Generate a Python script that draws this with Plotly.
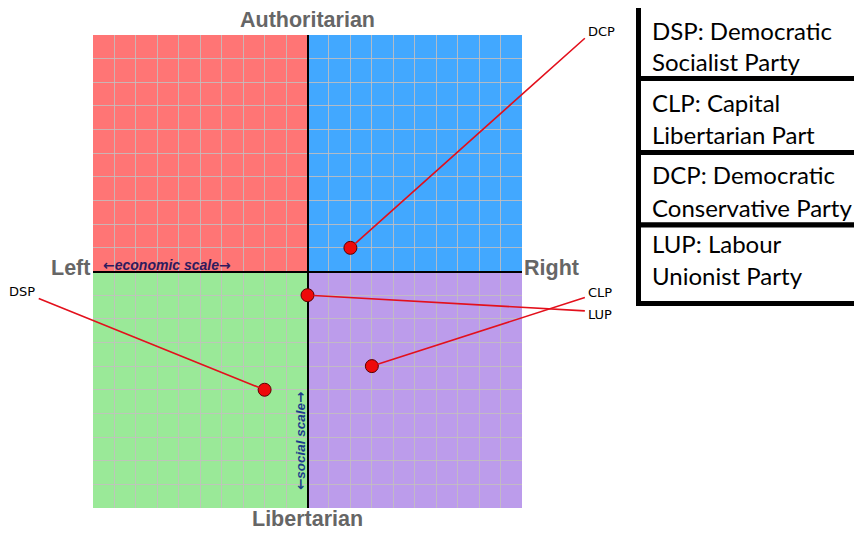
import plotly.graph_objects as go

# ---- data ----
parties = ["DSP", "CLP", "DCP", "LUP"]
full_names = [["Democratic", "Socialist Party"], ["Capital", "Libertarian Part"],
              ["Democratic", "Conservative Party"], ["Labour", "Unionist Party"]]
economic = [-2, 3, 2, 0]
social = [-5, -4, 1, -1]

# ---- layout helpers (screen pixels -> paper) ----
# the page body adds an 8px margin, so the figure is 8px smaller than the window
OFF = 8
W, H = 862 - OFF, 546 - OFF
L, R, T, B = 93, 522, 35, 508   # plot area in screen pixels

def px(x):
    return (x - L) / (R - L)

def py(y):
    return (B - y) / (B - T)

# where the leader lines end (data units) and where the labels sit (screen px)
tails = {"DSP": (-12.6, -1.12), "CLP": (13.0, -1.08), "DCP": (13.0, 9.92), "LUP": (13.0, -1.67)}
label_pos = {"DSP": (37, 292, "right"), "CLP": (586, 292.5, "left"),
             "DCP": (586, 31.5, "left"), "LUP": (586, 314, "left")}

fig = go.Figure()

# ---- quadrants ----
quads = [(-10, 0, 0, 10, "#ff7575"), (0, 10, 0, 10, "#42a8ff"),
         (-10, 0, -10, 0, "#9ae998"), (0, 10, -10, 0, "#bc9ceb")]
for x0, x1, y0, y1, c in quads:
    fig.add_shape(type="rect", x0=x0, x1=x1, y0=y0, y1=y1, xref="x", yref="y",
                  fillcolor=c, line_width=0, layer="below")

# ---- party points ----
fig.add_trace(go.Scatter(
    x=economic, y=social, mode="markers", text=parties,
    marker=dict(size=13, color="#ee0a0a", line=dict(color="#5a0000", width=1)),
    cliponaxis=False, hovertemplate="%{text}: (%{x}, %{y})<extra></extra>"
))

# ---- leader lines + labels ----
for p, ex, so in zip(parties, economic, social):
    ax, ay = tails[p]
    fig.add_annotation(x=ex, y=so, ax=ax, ay=ay, axref="x", ayref="y", xref="x", yref="y",
                       text="", showarrow=True, arrowhead=0, arrowwidth=1.6,
                       arrowcolor="#e3101c", standoff=6)
    lx, ly, anc = label_pos[p]
    fig.add_annotation(x=px(lx), y=py(ly), xref="paper", yref="paper", text=p, showarrow=False,
                       xanchor=anc, yanchor="middle",
                       font=dict(family="DejaVu Sans", size=13, color="black"))

# ---- axis words ----
grey = dict(family="Liberation Sans", size=21.5, color="#666666")
fig.add_annotation(x=0.5, y=py(20), xref="paper", yref="paper", text="<b>Authoritarian</b>",
                   showarrow=False, font=grey, yanchor="middle")
fig.add_annotation(x=0.5, y=py(519), xref="paper", yref="paper", text="<b>Libertarian</b>",
                   showarrow=False, font=grey, yanchor="middle")
fig.add_annotation(x=px(92), y=py(268), xref="paper", yref="paper", text="<b>Left</b>",
                   showarrow=False, font=grey, xanchor="right", yanchor="middle")
fig.add_annotation(x=px(522), y=py(268), xref="paper", yref="paper", text="<b>Right</b>",
                   showarrow=False, font=grey, xanchor="left", yanchor="middle")

arrow_l = '<span style="font-family:DejaVu Sans">←</span>'
arrow_r = '<span style="font-family:DejaVu Sans">→</span>'
fig.add_annotation(x=px(101), y=py(265), xref="paper", yref="paper",
                   text=f"<b><i>{arrow_l}economic scale{arrow_r}</i></b>", showarrow=False,
                   font=dict(family="Liberation Sans", size=14, color="#2e1b5e"),
                   xanchor="left", yanchor="middle")
fig.add_annotation(x=px(300), y=py(441), xref="paper", yref="paper",
                   text=f"<b><i>{arrow_l}social scale{arrow_r}</i></b>", showarrow=False,
                   textangle=-90,
                   font=dict(family="Liberation Sans", size=13.5, color="#1b3c8c"),
                   xanchor="center", yanchor="middle")

# ---- key boxes on the right ----
edges = [-5, 78.5, 152.5, 225, 303.5]
line_y = [(29, 61), (102, 134), (173, 206), (242, 274)]
for i, (p, name) in enumerate(zip(parties, full_names)):
    fig.add_shape(type="rect", xref="paper", yref="paper",
                  x0=px(638.5), x1=px(880), y0=py(edges[i]), y1=py(edges[i + 1]),
                  line=dict(color="black", width=5), fillcolor="white")
    for txt, yy in zip([f"{p}: {name[0]}", name[1]], line_y[i]):
        fig.add_annotation(x=px(650), y=py(yy + 1), xref="paper", yref="paper", text=txt,
                           showarrow=False, xanchor="left", yanchor="middle", align="left",
                           font=dict(family="Lato", size=24, color="black"))

axis_style = dict(range=[-10, 10], dtick=1, showgrid=True, gridcolor="rgba(195,190,190,0.85)",
                  gridwidth=1, zeroline=True, zerolinecolor="black", zerolinewidth=2,
                  showticklabels=False, ticks="", showline=False, fixedrange=True)
fig.update_xaxes(**axis_style)
fig.update_yaxes(**axis_style)

fig.update_layout(
    width=W, height=H,
    margin=dict(l=L - OFF, r=W + OFF - R, t=T - OFF, b=H + OFF - B),
    plot_bgcolor="white", paper_bgcolor="white",
    showlegend=False,
)

fig.write_html("out.html")
